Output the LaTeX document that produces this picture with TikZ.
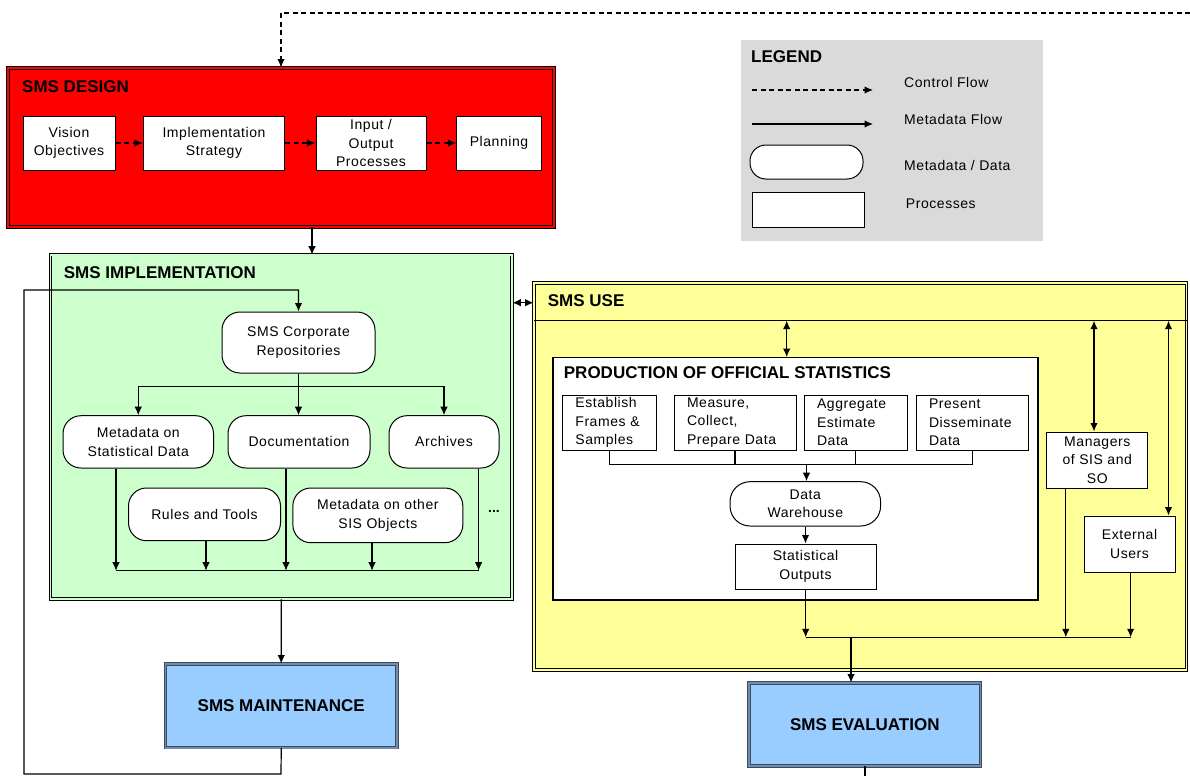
\documentclass[tikz,border=0pt]{standalone}
\usepackage{fontspec}
\setmainfont{Liberation Sans}[LetterSpace=4]
\newfontfamily\titlef{Liberation Sans}[LetterSpace=0]
\usetikzlibrary{arrows.meta,calc}
\definecolor{dred}{HTML}{FF0000}
\definecolor{lgreen}{HTML}{CCFFCC}
\definecolor{lyellow}{HTML}{FFFF99}
\definecolor{lblue}{HTML}{99CCFF}
\definecolor{lgray}{HTML}{DADADA}
\definecolor{bbord}{HTML}{3C4A5A}
\definecolor{bmid}{HTML}{6F8DB5}
\tikzset{
  txt/.style={font=\fontsize{14}{18.5}\selectfont},
  ttl/.style={font=\titlef\bfseries\fontsize{17}{20}\selectfont, inner sep=0pt, anchor=west},
  lbl/.style={txt, inner sep=0pt, anchor=west},
  proc/.style={txt, draw=black, line width=1pt, fill=white, align=center, inner sep=0pt},
  meta/.style={txt, draw=black, line width=1pt, fill=white, align=center, inner sep=0pt, rounded corners=18pt},
  leftproc/.style={txt, draw=black, line width=1pt, fill=white, align=left, inner ysep=0pt, inner xsep=13pt},
  frame/.style={draw=black, line width=0.9pt, double distance=1.6pt, inner sep=0pt},
  arr/.style={line width=1.2pt, -{Latex[length=8.5pt,width=7.5pt]}},
  dbl/.style={line width=1.2pt, {Latex[length=8.5pt,width=7.5pt]}-{Latex[length=8.5pt,width=7.5pt]}},
  darr/.style={arr, dash pattern=on 5pt off 3.5pt},
  ln/.style={line width=1.2pt},
}
\begin{document}
\begin{tikzpicture}[x=1pt,y=-1pt]
\useasboundingbox (0,0) rectangle (1190,776);

% ---------- SMS DESIGN ----------
\node[frame, fill=dred, double=dred, minimum width=546pt, minimum height=159pt] (design) at (281,147.5) {};
\node[ttl] (designT) at (22,87) {SMS DESIGN};
\node[proc, minimum width=92pt, minimum height=54pt] (vision) at (69,143) {Vision\\Objectives};
\node[proc, minimum width=141.5pt, minimum height=54pt] (strat) at (214,143) {Implementation\\Strategy};
\node[proc, minimum width=110pt, minimum height=54pt] (io) at (371,143) {Input /\\Output\\Processes};
\node[proc, minimum width=84.5pt, minimum height=54pt] (plan) at (499,143) {Planning};
\draw[darr] (vision) -- (strat);
\draw[darr] (strat) -- (io);
\draw[darr] (io) -- (plan);

% ---------- LEGEND ----------
\node[fill=lgray, minimum width=302.3pt, minimum height=200.7pt, inner sep=0pt] (legend) at (891.85,140.35) {};
\node[ttl] (legendT) at (751,56.7) {LEGEND};
\coordinate (l1a) at (752,90); \coordinate (l1b) at (873,90);
\coordinate (l2a) at (752,124); \coordinate (l2b) at (873,124);
\draw[darr] (l1a) -- (l1b);
\draw[arr] (l2a) -- (l2b);
\node[lbl] (lcf) at (904,82) {Control Flow};
\node[lbl] (lmf) at (904,119) {Metadata Flow};
\node[meta, rounded corners=16pt, minimum width=113pt, minimum height=34pt] (lmeta) at (806.5,162) {};
\node[lbl] (lmd) at (904,165) {Metadata / Data};
\node[proc, minimum width=111.3pt, minimum height=35pt] (lproc) at (808.35,209.5) {};
\node[lbl] (lpr) at (905.7,204) {Processes};

% ---------- top dashed control flow ----------
\coordinate (dstart) at (1190,13);
\draw[darr] (dstart) -| (design.north);

% ---------- SMS IMPLEMENTATION ----------
\node[frame, fill=lgreen, double=lgreen, minimum width=461.4pt, minimum height=344.3pt] (impl) at (281.3,426.85) {};
\coordinate (dimp) at (312,254.7);
\draw[arr] (design.south -| dimp) -- (dimp);
\node[ttl] (implT) at (63.7,273) {SMS IMPLEMENTATION};
\node[meta, minimum width=153pt, minimum height=61pt] (corp) at (298.5,342.5) {SMS Corporate\\Repositories};
\node[meta, minimum width=150.5pt, minimum height=52.3pt] (mstat) at (138.25,441.85) {Metadata on\\Statistical Data};
\node[meta, minimum width=142pt, minimum height=52.3pt] (doc) at (299,441.85) {Documentation};
\node[meta, minimum width=110pt, minimum height=52.3pt] (arch) at (444,441.85) {Archives};
\node[meta, minimum width=152pt, minimum height=52.7pt] (rules) at (204.5,514.35) {Rules and Tools};
\node[meta, minimum width=170pt, minimum height=54.7pt] (other) at (377.85,515.35) {Metadata on other\\SIS Objects};
\node[txt, font=\titlef\bfseries\fontsize{14}{16}\selectfont, inner sep=0pt] (dots) at (494,511) {...};
\coordinate (br) at (298.5,386.7);
\draw[ln] (corp.south) -- (br);
\draw[arr] (br) -| (mstat.north);
\draw[arr] (br) -- (doc.north -| br);
\draw[arr] (br) -| (arch.north);
\coordinate (c1) at (116,570.7);
\coordinate (c2) at (206,570.7);
\coordinate (c3) at (286,570.7);
\coordinate (c4) at (372,570.7);
\coordinate (c5) at (478.6,570.7);
\draw[ln] (c1) -- (c5);
\draw[arr] (mstat.south -| c1) -- (c1);
\draw[arr] (rules.south -| c2) -- (c2);
\draw[arr] (doc.south -| c3) -- (c3);
\draw[arr] (other.south -| c4) -- (c4);
\draw[arr] (arch.south -| c5) -- (c5);

% ---------- SMS MAINTENANCE ----------
\node[frame, draw=bbord, double=bmid, fill=lblue, minimum width=231.5pt, minimum height=83.7pt] (maint) at (281.25,705.85) {};
\node[font=\titlef\bfseries\fontsize{17}{20}\selectfont, inner sep=0pt] (maintT) at (281.25,705.5) {SMS MAINTENANCE};
\draw[arr] (impl.south) -- (maint.north);
\coordinate (fb1) at (281,774);
\coordinate (fb2) at (24,290);
\draw[arr] (maint.south) -- (fb1) -| (fb2) -| (corp.north);

% ---------- SMS USE ----------
\node[frame, fill=lyellow, double=lyellow, minimum width=652.6pt, minimum height=387pt] (use) at (860.3,476.5) {};
\coordinate (hdrL) at (534,320.7); \coordinate (hdrR) at (1186.6,320.7);
\draw[line width=1pt] (hdrL) -- (hdrR);
\node[ttl] (useT) at (547.7,301) {SMS USE};
\coordinate (h) at (0,302.7);
\draw[dbl] (impl.east |- h) -- (use.west |- h);

\node[draw=black, line width=1.2pt, fill=white, minimum width=485pt, minimum height=242.3pt, inner sep=0pt] (prod) at (795.5,478.85) {};
\node[ttl] (prodT) at (563.7,373) {PRODUCTION OF OFFICIAL STATISTICS};
\coordinate (u1) at (786.7,320.7);
\draw[dbl] (u1) -- (u1 |- prod.north);

\node[leftproc, text width=67.6pt, minimum height=55pt] (est) at (609.2,422.5) {Establish\\Frames \&\\Samples};
\node[leftproc, text width=96pt, minimum height=55pt] (meas) at (735,422.5) {Measure,\\Collect,\\Prepare Data};
\node[leftproc, text width=77.5pt, minimum height=55pt] (agg) at (855.75,422.5) {Aggregate\\Estimate\\Data};
\node[leftproc, text width=86.7pt, minimum height=55pt] (pres) at (972.35,422.5) {Present\\Disseminate\\Data};
\coordinate (b1) at (806.5,464.3);
\draw[ln] (est.south) |- (pres.south |- b1) -- (pres.south);
\draw[ln] (meas.south) -- (meas.south |- b1);
\draw[ln] (agg.south) -- (agg.south |- b1);
\node[meta, rounded corners=20pt, minimum width=150.6pt, minimum height=44.3pt] (dw) at (805.3,503.85) {Data\\Warehouse};
\draw[arr] (b1) -- (b1 |- dw.north);
\node[proc, minimum width=141pt, minimum height=45pt] (so) at (805.5,566.5) {Statistical\\Outputs};
\draw[arr] (dw.south -| so.north) -- (so.north);

\node[proc, minimum width=101pt, minimum height=56pt] (mgr) at (1097.3,460) {Managers\\of SIS and\\SO};
\node[proc, minimum width=91pt, minimum height=56pt] (ext) at (1129.5,544) {External\\Users};
\coordinate (u2) at (1094,320.7);
\coordinate (u3) at (1168.5,320.7);
\draw[dbl] (u2) -- (u2 |- mgr.north);
\draw[dbl] (u3) -- (u3 |- ext.north);

\coordinate (e1) at (805.7,637.3);
\coordinate (e2) at (1065.8,637.3);
\coordinate (e3) at (1130.6,637.3);
\coordinate (e4) at (851,637.3);
\draw[ln] (e1) -- (e3);
\draw[arr] (so.south -| e1) -- (e1);
\draw[arr] (mgr.south -| e2) -- (e2);
\draw[arr] (ext.south -| e3) -- (e3);

% ---------- SMS EVALUATION ----------
\node[frame, draw=bbord, double=bmid, fill=lblue, minimum width=231.6pt, minimum height=83pt] (eval) at (864.8,724.5) {};
\node[font=\titlef\bfseries\fontsize{17}{20}\selectfont, inner sep=0pt] (evalT) at (864.8,724.5) {SMS EVALUATION};
\draw[arr] (e4) -- (e4 |- eval.north);
\coordinate (evout) at (865,776);
\draw[ln] (eval.south -| evout) -- (evout);
\end{tikzpicture}
\end{document}
